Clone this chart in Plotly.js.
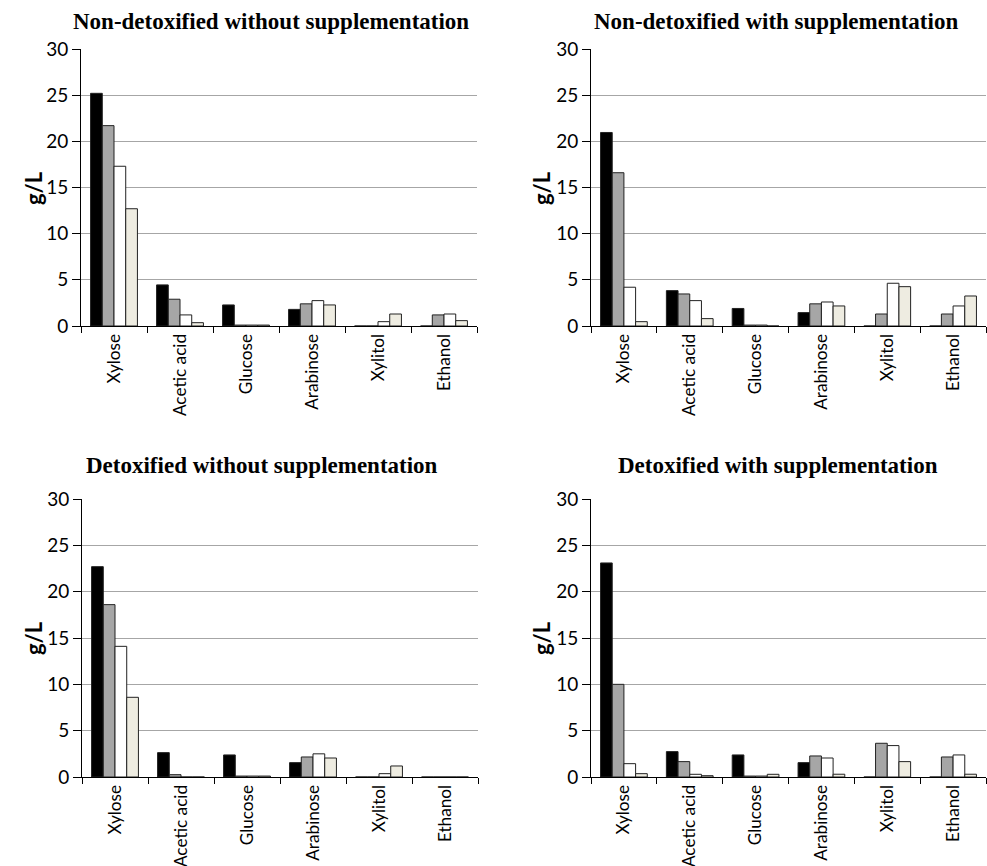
<!DOCTYPE html>
<html>
<head>
<meta charset="utf-8">
<script src="https://cdn.plot.ly/plotly-3.0.1.min.js"></script>
<style>html,body{margin:0;padding:0;background:#fff;}#chart{width:987px;height:866px;}</style>
</head>
<body>
<div id="chart"></div>
<script>
const categories = ['Xylose', 'Acetic acid', 'Glucose', 'Arabinose', 'Xylitol', 'Ethanol'];
const panelTitles = ['Non-detoxified without supplementation', 'Non-detoxified with supplementation',
                     'Detoxified without supplementation', 'Detoxified with supplementation'];
const seriesNames = ['Series 1', 'Series 2', 'Series 3', 'Series 4'];
const yTickVals = [0, 5, 10, 15, 20, 25, 30];
const yTitle = 'g/L';

// Non-detoxified without supplementation
const ndNoSup1 = [25.2, 4.45, 2.28, 1.8, 0, 0];
const ndNoSup2 = [21.7, 2.9, 0.1, 2.4, 0, 1.2];
const ndNoSup3 = [17.3, 1.2, 0.1, 2.75, 0.47, 1.3];
const ndNoSup4 = [12.7, 0.36, 0.1, 2.28, 1.3, 0.58];
// Non-detoxified with supplementation
const ndSup1 = [20.96, 3.83, 1.9, 1.45, 0, 0];
const ndSup2 = [16.6, 3.47, 0.1, 2.4, 1.3, 1.3];
const ndSup3 = [4.2, 2.75, 0.1, 2.6, 4.63, 2.17];
const ndSup4 = [0.47, 0.8, 0, 2.17, 4.26, 3.25];
// Detoxified without supplementation
const dNoSup1 = [22.7, 2.63, 2.38, 1.55, 0, 0];
const dNoSup2 = [18.6, 0.25, 0.1, 2.16, 0, 0];
const dNoSup3 = [14.1, 0, 0.1, 2.5, 0.36, 0];
const dNoSup4 = [8.6, 0, 0.1, 2.05, 1.19, 0];
// Detoxified with supplementation
const dSup1 = [23.1, 2.74, 2.38, 1.55, 0, 0];
const dSup2 = [10.0, 1.66, 0.1, 2.27, 3.64, 2.16];
const dSup3 = [1.44, 0.29, 0.1, 2.05, 3.39, 2.38];
const dSup4 = [0.36, 0.14, 0.29, 0.3, 1.66, 0.3];

const panels = [
  [ndNoSup1, ndNoSup2, ndNoSup3, ndNoSup4],
  [ndSup1, ndSup2, ndSup3, ndSup4],
  [dNoSup1, dNoSup2, dNoSup3, dNoSup4],
  [dSup1, dSup2, dSup3, dSup4]
];
const colors = ['#000000', '#a6a6a6', '#ffffff', '#eeece1'];

const W = 987, H = 866;
const xDom = [[81 / W, 477 / W], [591 / W, 986 / W], [82 / W, 478 / W], [591 / W, 986 / W]];
const yDom = [[1 - 326 / H, 1 - 49 / H], [1 - 326 / H, 1 - 49 / H], [1 - 777 / H, 1 - 499 / H], [1 - 777 / H, 1 - 499 / H]];
const titlePos = [[271, 22], [776, 22], [262, 465], [778, 465]];
const yTitlePos = [[33, 188], [541, 188], [33, 638], [541, 638]];

const data = [];
const layout = {
  width: W, height: H,
  margin: {l: 0, r: 0, t: 0, b: 0},
  paper_bgcolor: '#fff', plot_bgcolor: '#fff',
  showlegend: false,
  barmode: 'group',
  bargap: 0.29,
  bargroupgap: 0,
  font: {family: 'Lato, "Open Sans", sans-serif', color: '#000'},
  annotations: []
};

panels.forEach((series, p) => {
  const sfx = p === 0 ? '' : String(p + 1);
  series.forEach((vals, s) => {
    data.push({
      type: 'bar', x: categories, y: vals, name: seriesNames[s],
      xaxis: 'x' + sfx, yaxis: 'y' + sfx,
      marker: {color: colors[s], line: {color: '#222', width: 1}}
    });
  });
  layout['xaxis' + sfx] = {
    domain: xDom[p], anchor: 'y' + sfx,
    showline: true, linecolor: '#000', linewidth: 1,
    ticks: 'outside', tickson: 'boundaries', ticklen: 6, tickcolor: '#000',
    tickangle: -90, tickfont: {size: 17.2, family: 'Lato, sans-serif'},
    showgrid: false, zeroline: false, fixedrange: true
  };
  layout['yaxis' + sfx] = {
    domain: yDom[p], anchor: 'x' + sfx,
    range: [0, 30], tickvals: yTickVals,
    showline: true, linecolor: '#000', linewidth: 1,
    ticks: 'outside', ticklen: 8, tickcolor: '#000',
    tickfont: {size: 19, family: 'Lato, sans-serif'},
    showgrid: true, gridcolor: '#a6a6a6', gridwidth: 1,
    zeroline: false, fixedrange: true
  };
  layout.annotations.push({
    text: '<b>' + panelTitles[p] + '</b>', xref: 'paper', yref: 'paper',
    x: titlePos[p][0] / W, y: 1 - titlePos[p][1] / H, xanchor: 'center', yanchor: 'middle',
    showarrow: false, font: {family: '"Liberation Serif", "Times New Roman", serif', size: 23, color: '#000'}
  });
  layout.annotations.push({
    text: '<b>' + yTitle + '</b>', xref: 'paper', yref: 'paper',
    x: yTitlePos[p][0] / W, y: 1 - yTitlePos[p][1] / H, xanchor: 'center', yanchor: 'middle',
    textangle: -90, showarrow: false, font: {family: 'Lato, sans-serif', size: 22, color: '#000'}
  });
});

Plotly.newPlot('chart', data, layout, {displayModeBar: false, staticPlot: true});
</script>
</body>
</html>
